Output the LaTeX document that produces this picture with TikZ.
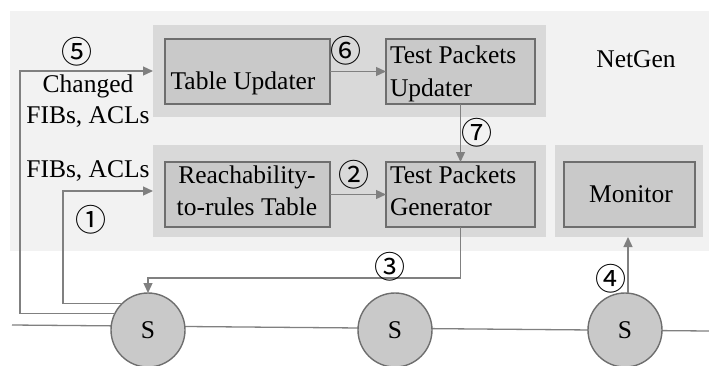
\documentclass[tikz,border=0pt]{standalone}
\usepackage{fontspec}
\setmainfont{Liberation Serif}
\newfontfamily\circfont{Noto Sans CJK SC}
\usetikzlibrary{arrows.meta}

\definecolor{bggray}{HTML}{F2F2F2}
\definecolor{panelgray}{HTML}{D9D9D9}
\definecolor{boxgray}{HTML}{C9C9C9}
\definecolor{edgegray}{HTML}{6E6E6E}
\definecolor{linkgray}{HTML}{808080}

\begin{document}
\begin{tikzpicture}[x=1pt,y=-1pt,
  every node/.style={inner sep=0pt, outer sep=0pt},
  lbl/.style={font=\fontsize{25.5}{32}\selectfont},
  num/.style={font=\circfont\fontsize{31}{34}\selectfont},
  panel/.style={rectangle, fill=panelgray, draw=none, anchor=north west},
  box/.style={rectangle, fill=boxgray, draw=edgegray, line width=1.6pt, anchor=north west},
  sw/.style={circle, fill=boxgray, draw=edgegray, line width=1.4pt, minimum size=74pt},
  link/.style={draw=linkgray, line width=1.3pt},
  arr/.style={link, -{Triangle[length=10pt,width=9pt]}},
]
\useasboundingbox (0,0) rectangle (709,365);

% NetGen background
\fill[bggray] (10,11) rectangle (709,251);

% grouping panels
\node[panel, minimum width=393pt, minimum height=92pt] (top) at (153,25) {};
\node[panel, minimum width=393pt, minimum height=92pt] (bot) at (153,145) {};
\node[panel, minimum width=148pt, minimum height=92pt] (monp) at (555,145) {};

% functional blocks
\node[box, minimum width=165pt, minimum height=65pt] (tub) at (165,39) {};
\node[box, minimum width=149pt, minimum height=65pt] (tpu) at (386,39) {};
\node[box, minimum width=165pt, minimum height=65pt] (reach) at (165,162) {};
\node[box, minimum width=149pt, minimum height=65pt] (tpg) at (386,162) {};
\node[box, minimum width=131pt, minimum height=65pt] (mon) at (564,162) {};

% block texts
\node[lbl, anchor=base] (tub-t) at (243,89) {Table Updater};
\node[lbl, anchor=base west] (tpu-t1) at (390,63) {Test Packets};
\node[lbl, anchor=base west] (tpu-t2) at (390,96) {Updater};
\node[lbl, anchor=base] (reach-t1) at (247,183) {Reachability-};
\node[lbl, anchor=base] (reach-t2) at (247,215) {to-rules Table};
\node[lbl, anchor=base west] (tpg-t1) at (390,183) {Test Packets};
\node[lbl, anchor=base west] (tpg-t2) at (390,215) {Generator};
\node[lbl, anchor=base] (mon-t) at (631,202) {Monitor};
\node[lbl, anchor=base] (netgen) at (636,67) {NetGen};

% side texts
\node[lbl, anchor=base] (chg1) at (88,92) {Changed};
\node[lbl, anchor=base] (chg2) at (88,123) {FIBs, ACLs};
\node[lbl, anchor=base] (fib) at (88,177) {FIBs, ACLs};

% network wire and switches
\coordinate (wl) at (12,325);
\coordinate (wr) at (709,331);
\draw[link] (wl) -- (wr);
\node[sw] (s1) at (148,330) {};
\node[sw] (s2) at (395,330) {};
\node[sw] (s3) at (625,330) {};
\foreach \s in {s1,s2,s3}
  \node[lbl, anchor=base] at ([yshift=-8pt]\s.center) {S};

% connectors
\coordinate (k5) at (20,71);
\coordinate (k1) at (63,191);
\coordinate (k3) at (148,278);
\draw[arr] (s1.153) -| (k5) -- (top.west);
\draw[arr] (s1.135) -| (k1) -- (bot.west);
\draw[arr] (tub) -- (tpu);
\draw[arr] (reach) -- (tpg);
\draw[arr] (tpu.south) -- (tpg.north);
\draw[arr] (tpg.south) |- (k3) -- (s1.north);
\draw[arr] ([xshift=3pt]s3.north) -- ([xshift=3pt]s3.north |- monp.south);

% step numbers
\node[num] (n5) at (77,52) {⑤};
\node[num] (n6) at (346,51) {⑥};
\node[num] (n7) at (477,133) {⑦};
\node[num] (n2) at (354,175) {②};
\node[num] (n1) at (91,220) {①};
\node[num] (n3) at (390,267) {③};
\node[num] (n4) at (611,279) {④};
\end{tikzpicture}
\end{document}
